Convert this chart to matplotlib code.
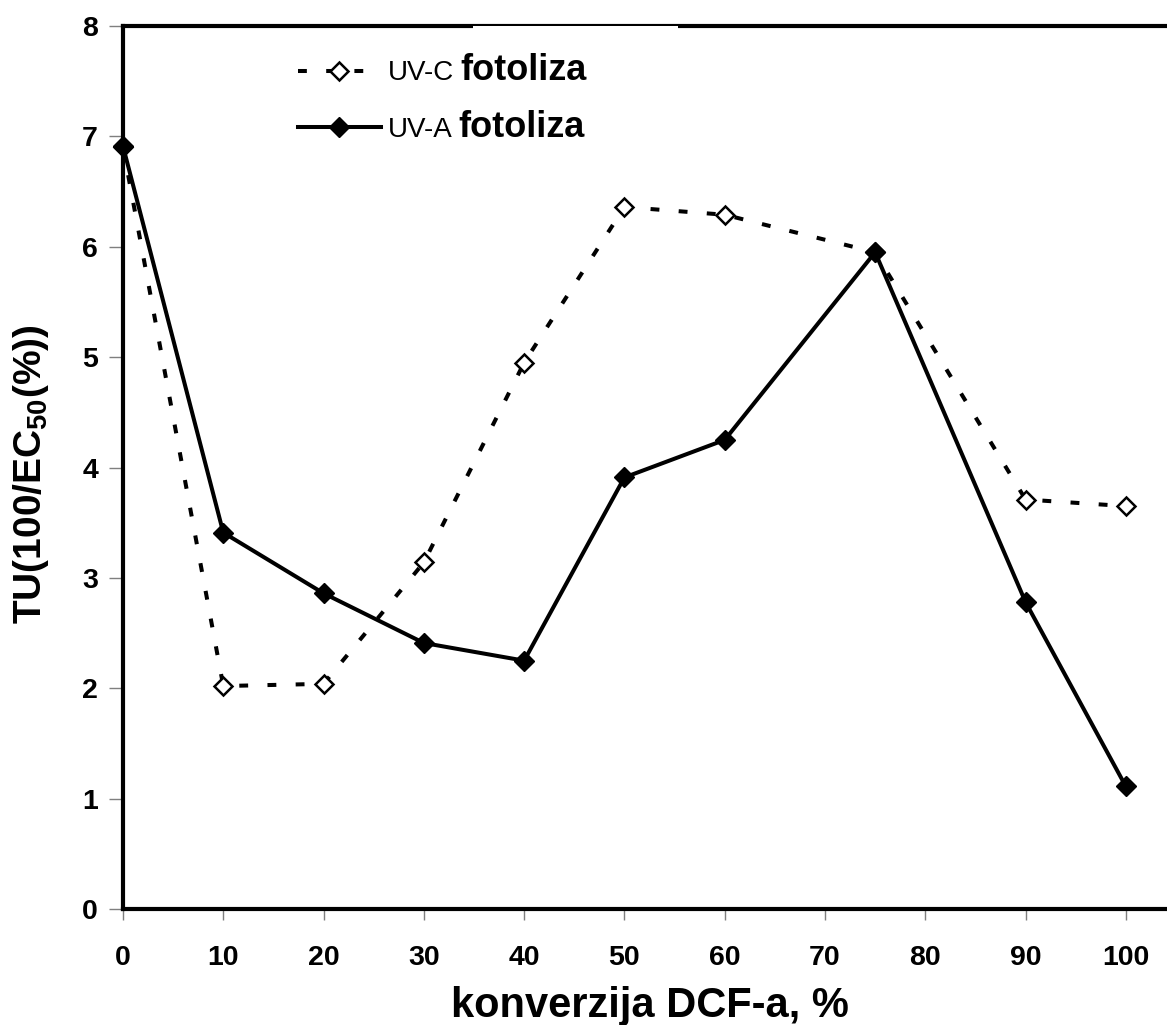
import matplotlib
matplotlib.use('Agg')
import matplotlib.pyplot as plt
from matplotlib.patches import Rectangle

# ---- data ----
conversion = [0, 10, 20, 30, 40, 50, 60, 75, 90, 100]
uvc = [6.90, 2.02, 2.04, 3.14, 4.95, 6.36, 6.29, 5.95, 3.71, 3.65]
uva = [6.91, 3.41, 2.86, 2.41, 2.25, 3.91, 4.25, 5.95, 2.78, 1.11]
xticks = [0, 10, 20, 30, 40, 50, 60, 70, 80, 90, 100]
yticks = [0, 1, 2, 3, 4, 5, 6, 7, 8]
series_labels = ['UV-C', 'UV-A']
legend_suffix = 'fotoliza'
xlabel = 'konverzija DCF-a, %'
ylabel = r'TU(100/EC$_{50}$(%))'

plt.rcParams['font.family'] = ['Liberation Sans', 'DejaVu Sans']
plt.rcParams['font.weight'] = 'bold'
plt.rcParams['mathtext.fontset'] = 'custom'
plt.rcParams['mathtext.rm'] = 'Liberation Sans:bold'
plt.rcParams['mathtext.it'] = 'Liberation Sans:bold'
plt.rcParams['mathtext.bf'] = 'Liberation Sans:bold'
plt.rcParams['mathtext.default'] = 'rm'

W, H = 1167, 1025
fig = plt.figure(figsize=(W / 100, H / 100), dpi=100)
ax = fig.add_axes([123 / W, 116 / H, 1053 / W, 883 / H])

ax.plot(conversion, uvc, color='black', lw=2.9, dashes=(2.2, 4.8),
        marker='D', ms=9.5, mfc='white', mec='black', mew=1.8,
        label=series_labels[0], clip_on=False, zorder=3)
ax.plot(conversion, uva, color='black', lw=2.9, linestyle='-',
        marker='D', ms=10, mfc='black', mec='black', mew=1.0,
        label=series_labels[1], clip_on=False, zorder=4)

ax.set_xlim(0, 105)
ax.set_ylim(0, 8)
ax.set_xticks(xticks)
ax.set_yticks(yticks)

for s in ['left', 'bottom', 'top']:
    ax.spines[s].set_linewidth(3)
    ax.spines[s].set_color('black')
ax.spines['right'].set_visible(False)

ax.tick_params(axis='both', direction='out', color='#7f7f7f', width=1,
               labelsize=20.5, labelcolor='black')
ax.tick_params(axis='x', length=8, pad=18)
ax.tick_params(axis='y', length=10, pad=8)
for lbl in ax.get_xticklabels() + ax.get_yticklabels():
    lbl.set_fontweight('bold')

ax.set_xlabel(xlabel, fontsize=30, fontweight='bold')
ax.xaxis.set_label_coords(0.5, -0.087)
ax.set_ylabel(ylabel, fontsize=28, fontweight='bold')
ax.yaxis.set_label_coords(-0.068, 0.492)

# white gap over top frame (as in original)
ax.add_patch(Rectangle((0.332, 1 - 0.004), 0.195, 0.0045, transform=ax.transAxes,
                       facecolor='white', edgecolor='none', clip_on=False, zorder=6))

leg = ax.legend(loc='upper left', bbox_to_anchor=(0.166, 0.961), frameon=False,
                prop={'family': 'Liberation Sans', 'weight': 'normal', 'size': 20},
                handlelength=3.0, handletextpad=0.25, labelspacing=1.1,
                borderpad=0, borderaxespad=0)

fig.canvas.draw()
fs_small_px = 20 * 100 / 72
fs_big_px = 26 * 100 / 72
for t in leg.get_texts():
    bb = t.get_window_extent()
    y = bb.y0 - 0.212 * (fs_big_px - fs_small_px)
    fig.text((bb.x1 + 6) / W, y / H, legend_suffix, fontsize=26,
             fontweight='bold', ha='left', va='bottom')

fig.savefig('out.png', dpi=100)
